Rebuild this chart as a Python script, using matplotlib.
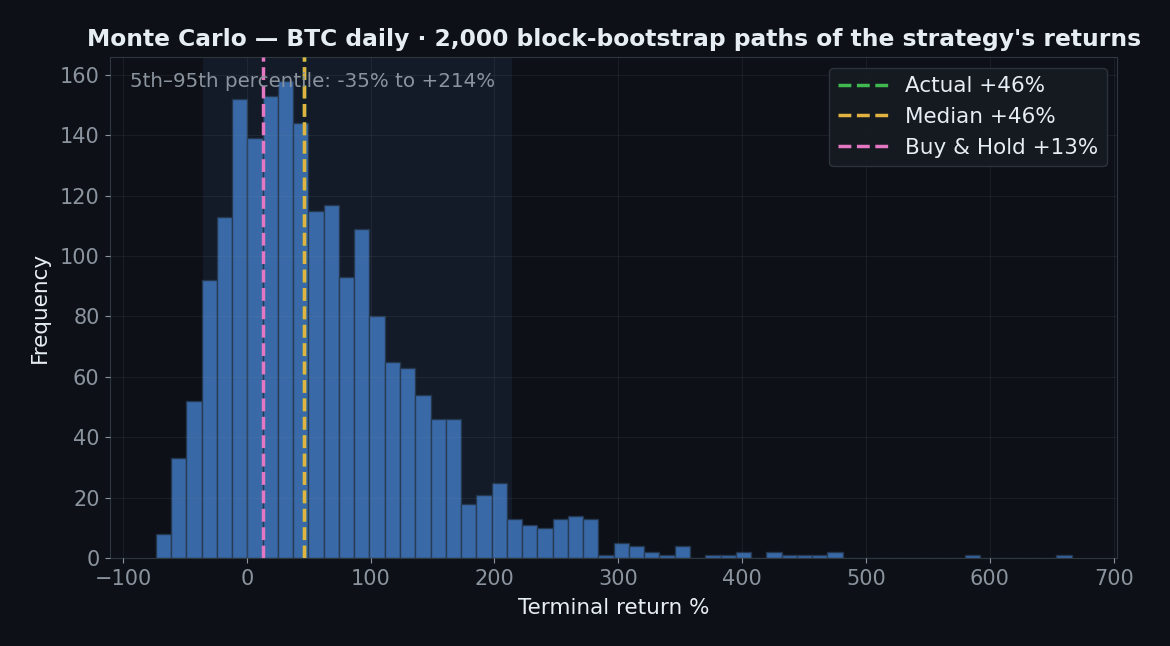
import numpy as np
import matplotlib
matplotlib.use("Agg")
import matplotlib.pyplot as plt

# ---- data ----
ret_min = -73.5
ret_max = 666.0
counts = [8, 33, 52, 92, 113, 152, 139, 153, 158, 144,
          115, 117, 93, 109, 80, 65, 63, 54, 46, 46,
          18, 21, 25, 13, 11, 10, 13, 14, 13, 1,
          5, 4, 2, 1, 4, 0, 1, 1, 2, 0,
          2, 1, 1, 1, 2, 0, 0, 0, 0, 0,
          0, 0, 0, 1, 0, 0, 0, 0, 0, 1]
actual_ret = 46
median_ret = 46
bh_ret = 13
p5, p95 = -35, 214

BG = "#0d1117"
TXT = "#e6edf3"
MUTED = "#8b949e"

edges = np.linspace(ret_min, ret_max, len(counts) + 1)
centers = (edges[:-1] + edges[1:]) / 2

fig, ax = plt.subplots(figsize=(11.7, 6.46), dpi=100)
fig.patch.set_facecolor(BG)
ax.set_facecolor(BG)

ax.axvspan(p5, p95, color="#58a6ff", alpha=0.07, lw=0, zorder=0)
ax.hist(centers, bins=edges, weights=counts, color="#4078bf", alpha=0.85,
        edgecolor="#26374d", linewidth=1, zorder=2)

ax.axvline(actual_ret, color="#3fb950", ls="--", lw=2.5, zorder=3,
           label=f"Actual {actual_ret:+d}%")
ax.axvline(median_ret, color="#e3b341", ls="--", lw=2.5, zorder=3,
           label=f"Median {median_ret:+d}%")
ax.axvline(bh_ret, color="#e377c2", ls="--", lw=2.5, zorder=3,
           label=f"Buy & Hold {bh_ret:+d}%")

ax.grid(True, color="#8b949e", alpha=0.1, lw=0.8, zorder=2.5)
ax.set_axisbelow(False)
for s in ax.spines.values():
    s.set_color("#30363d")
ax.tick_params(colors=MUTED, labelsize=15, pad=4)

ax.set_xlabel("Terminal return %", color=TXT, fontsize=15.5, labelpad=7)
ax.set_ylabel("Frequency", color=TXT, fontsize=15.5, labelpad=7)
ax.set_title("Monte Carlo — BTC daily · 2,000 block-bootstrap paths of the strategy's returns",
             color=TXT, fontsize=16.8, fontweight="bold", pad=8)

ax.text(0.02, 0.97, f"5th–95th percentile: {p5:+d}% to {p95:+d}%".replace("+-", "-"),
        transform=ax.transAxes, ha="left", va="top", color=MUTED, fontsize=14.3)

leg = ax.legend(loc="upper right", fontsize=15.5, facecolor="#161b22",
                edgecolor="#30363d", labelcolor=TXT, framealpha=0.9,
                handlelength=2.3)

fig.subplots_adjust(left=0.094, right=0.955, top=0.912, bottom=0.136)
fig.savefig("out.png", dpi=100, facecolor=BG)
